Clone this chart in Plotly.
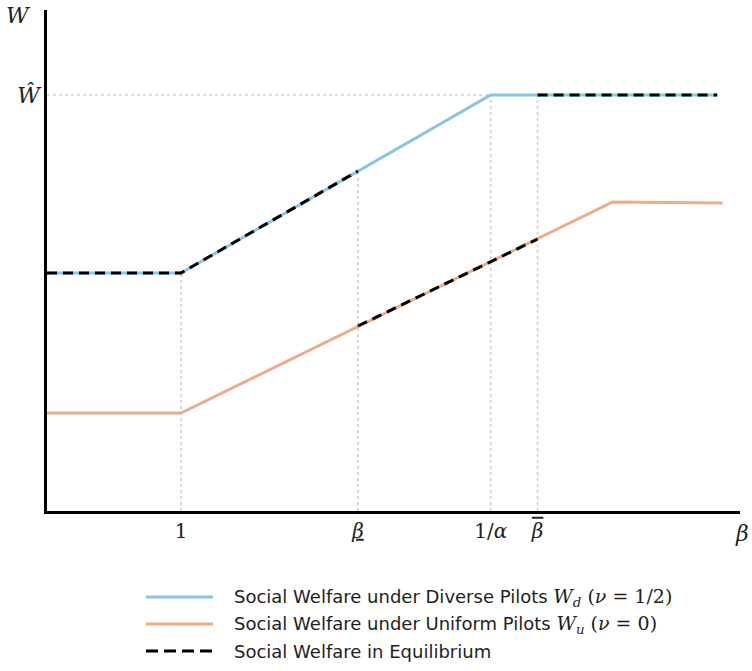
import plotly.graph_objects as go

# ---- data ----
wd_x = [0.0, 1.0, 3.31, 5.0]          # Social welfare, diverse pilots
wd_y = [2.38, 2.38, 4.16, 4.16]
wu_x = [0.0, 1.0, 4.22, 5.04]         # Social welfare, uniform pilots
wu_y = [0.98, 0.98, 3.09, 3.08]
eq_x = [0.0, 1.0, 2.32, None, 2.32, 3.66, None, 3.66, 5.0]   # equilibrium
eq_y = [2.38, 2.38, 3.40, None, 1.85, 2.72, None, 4.16, 4.16]

tick_vals = [1.0, 2.32, 3.31, 3.66]
tick_text = ["1", "<u><i>β</i></u>", "1/<i>α</i>",
             "<span style='text-decoration:overline'><i>β</i></span>"]
w_hat = 4.16
guide_x = [1.0, 2.32, 3.31, 3.66]
guide_top = [2.38, 3.40, 4.16, 4.16]

X_MAX = 5.17
Y_MAX = 5.01

BLUE = "#86C5E3"
ORANGE = "#EFAB88"
GRID = "#cfcfcf"
SERIF = "DejaVu Serif"
SANS = "DejaVu Sans"

fig = go.Figure()
fig.add_trace(go.Scatter(x=wd_x, y=wd_y, mode="lines",
                         line=dict(color=BLUE, width=3), name="W_d", showlegend=False))
fig.add_trace(go.Scatter(x=wu_x, y=wu_y, mode="lines",
                         line=dict(color=ORANGE, width=3), name="W_u", showlegend=False))
fig.add_trace(go.Scatter(x=eq_x, y=eq_y, mode="lines", connectgaps=False,
                         line=dict(color="black", width=3, dash="10px,6px"),
                         name="Equilibrium", showlegend=False))

shapes = []
for gx, gt in zip(guide_x, guide_top):
    shapes.append(dict(type="line", xref="x", yref="y", x0=gx, x1=gx, y0=0, y1=gt,
                       line=dict(color=GRID, width=1.5, dash="dot"), layer="below"))
shapes.append(dict(type="line", xref="x", yref="y", x0=0, x1=3.31, y0=w_hat, y1=w_hat,
                   line=dict(color=GRID, width=1.5, dash="dot"), layer="below"))

# manual legend
L, R_, T, B = 47, 12, 10, 160
PW, PH = 752 - L - R_, 671 - T - B
def px(xp):
    return (xp - L) / PW
def py(yp):
    return (T + PH - yp) / PH

MATH = f"font-family:{SERIF};font-size:19px"
leg_items = [
    (BLUE, "solid", "Social Welfare under Diverse Pilots "
     f"<span style='{MATH}'><i>W<sub>d</sub></i> (<i>ν</i> = 1/2)</span>"),
    (ORANGE, "solid", "Social Welfare under Uniform Pilots "
     f"<span style='{MATH}'><i>W<sub>u</sub></i> (<i>ν</i> = 0)</span>"),
    ("black", "12px,6px", "Social Welfare in Equilibrium"),
]
annotations = []
for i, (col, dash, txt) in enumerate(leg_items):
    yy = 597 + 27 * i
    shapes.append(dict(type="line", xref="paper", yref="paper", x0=px(146), x1=px(213),
                       y0=py(yy), y1=py(yy), line=dict(color=col, width=3, dash=dash)))
    annotations.append(dict(xref="paper", yref="paper", x=px(232), y=py(yy),
                            xanchor="left", yanchor="middle", showarrow=False, text=txt,
                            font=dict(family=SANS, size=18, color="#1e1e1e")))

annotations.append(dict(xref="paper", yref="paper", x=px(742), y=py(533), showarrow=False,
                        xanchor="center", yanchor="middle", text="<i>β</i>",
                        font=dict(family=SERIF, size=22, color="#222222")))
annotations.append(dict(xref="paper", yref="paper", x=px(18), y=py(15), showarrow=False,
                        xanchor="center", yanchor="middle", text="<i>W</i>",
                        font=dict(family=SERIF, size=22, color="#222222")))

fig.update_layout(
    width=752, height=671,
    margin=dict(l=L, r=R_, t=T, b=B),
    plot_bgcolor="white", paper_bgcolor="white",
    shapes=shapes, annotations=annotations,
    showlegend=False,
    xaxis=dict(range=[0, X_MAX], showgrid=False, zeroline=False, showline=True,
               linecolor="black", linewidth=2.5, tickvals=tick_vals, ticktext=tick_text,
               ticks="", tickfont=dict(family=SERIF, size=20, color="#222222")),
    yaxis=dict(range=[0, Y_MAX], showgrid=False, zeroline=False, showline=True,
               linecolor="black", linewidth=2.5, tickvals=[w_hat],
               ticktext=["<i>Ŵ</i>"], ticks="",
               tickfont=dict(family=SERIF, size=22, color="#222222")),
)

fig.write_html("out.html")
